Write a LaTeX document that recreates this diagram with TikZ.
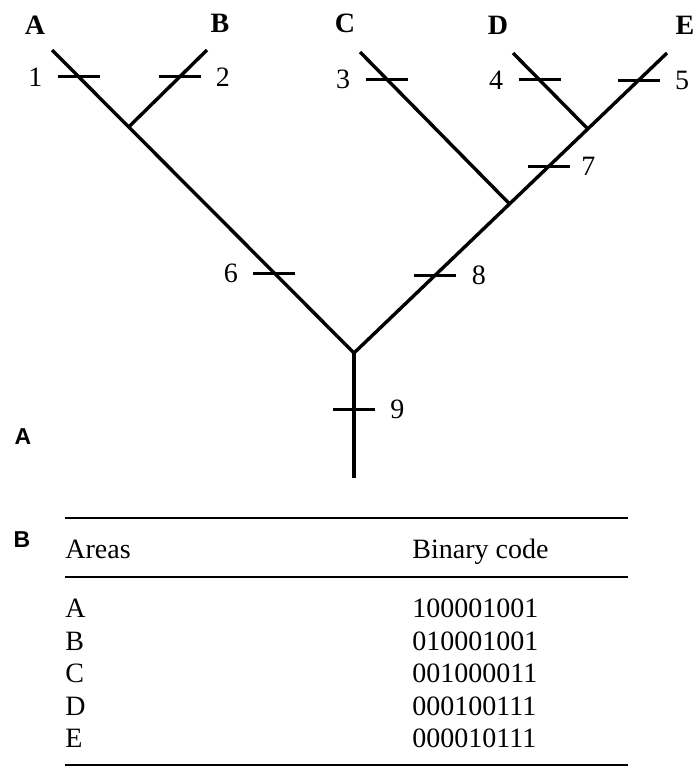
\documentclass[tikz,border=0pt]{standalone}
\usepackage{fontspec}
\setmainfont{Liberation Serif}
\newfontfamily\panelfont{Liberation Sans}
\usepackage{tikz}
\usetikzlibrary{positioning}

\begin{document}
\begin{tikzpicture}[x=0.5pt,y=-0.5pt,
  branch/.style={line width=1.7pt},
  tickmark/.style={line width=1.5pt},
  numlab/.style={inner sep=1pt,font=\fontsize{14}{16}\selectfont},
  leaf/.style={inner sep=0pt,font=\fontsize{14}{16}\selectfont\bfseries},
  panel/.style={inner sep=0pt,font=\panelfont\fontsize{11.5}{14}\selectfont\bfseries},
  cell/.style={anchor=base west,inner sep=0pt,font=\fontsize{14}{16}\selectfont},
  rule/.style={line width=1pt}]
  \useasboundingbox (0,0) rectangle (697,767);

  % A: tree of the five areas
  \begin{scope}
    \coordinate (R) at (354,353);
    \coordinate (S) at (354,478);
    \coordinate (A) at (52,50);
    \coordinate (B) at (207,50);
    \coordinate (C) at (360,52);
    \coordinate (D) at (513,53);
    \coordinate (E) at (667,53);
    \path (A) -- (R) coordinate[pos=0.254] (AB) coordinate[pos=0.089] (t1) coordinate[pos=0.736] (t6);
    \path (E) -- (R) coordinate[pos=0.253] (DE) coordinate[pos=0.503] (CDE)
      coordinate[pos=0.09] (t5) coordinate[pos=0.377] (t7) coordinate[pos=0.74] (t8);
    \path (B) -- (AB) coordinate[pos=0.35] (t2);
    \path (C) -- (CDE) coordinate[pos=0.178] (t3);
    \path (D) -- (DE) coordinate[pos=0.355] (t4);
    \path (R) -- (S) coordinate[pos=0.448] (t9);

    \draw[branch] (A) -- (R) -- (E);
    \draw[branch] (B) -- (AB);
    \draw[branch] (C) -- (CDE);
    \draw[branch] (D) -- (DE);
    \draw[branch] (R) -- (S);

    % character changes
    \foreach \t/\anc/\dx/\n in {t1/east/-17pt/1,t2/west/17pt/2,t3/east/-17pt/3,
        t4/east/-17pt/4,t5/west/17pt/5,t6/east/-17pt/6,t7/west/15pt/7,
        t8/west/17pt/8,t9/west/17pt/9}{
      \draw[tickmark] ([xshift=-10.5pt]\t) -- ([xshift=10.5pt]\t);
      \node[numlab,anchor=\anc] (n\n) at ([xshift=\dx]\t) {\n};
    }

    \node[leaf] (lA) at (35,25) {A};
    \node[leaf] (lB) at (220,23) {B};
    \node[leaf] (lC) at (345,23) {C};
    \node[leaf] (lD) at (498,25) {D};
    \node[leaf] (lE) at (685,25) {E};
    \node[panel] (pA) at (23,437) {A};
  \end{scope}

  % B: binary codes
  \begin{scope}
    \node[panel] (pB) at (22,540) {B};
    \draw[rule] (65,518) -- (628,518);
    \draw[rule] (65,577) -- (628,577);
    \draw[rule] (65,765) -- (628,765);
    \node[cell] (hArea) at (65,558.5) {Areas};
    \node[cell] (hCode) at (412,558.5) {Binary code};
    \foreach \a/\c [count=\i from 0] in {A/100001001,B/010001001,C/001000011,
        D/000100111,E/000010111}{
      \node[cell] (a\a) at (65,{617.5+32.5*\i}) {\a};
      \node[cell] (c\a) at (412,{617.5+32.5*\i}) {\c};
    }
  \end{scope}
\end{tikzpicture}
\end{document}
